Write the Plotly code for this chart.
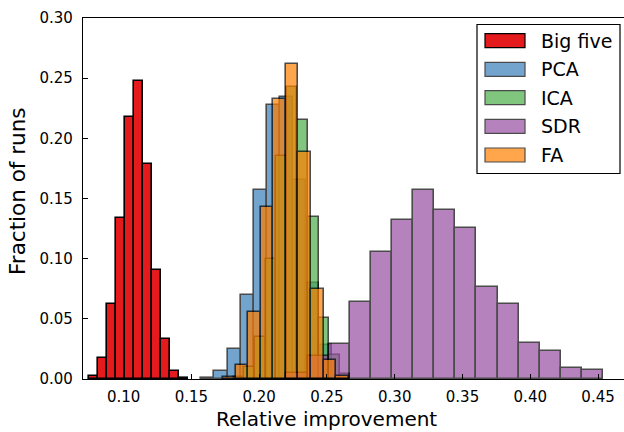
import plotly.graph_objects as go

# ---- data (fractions of runs per histogram bin) ----
series_names = ["Big five", "PCA", "ICA", "SDR", "FA"]

bigfive_start, bigfive_width = 0.07418, 0.006667
bigfive_vals = [0.0028, 0.0177, 0.0624, 0.134, 0.2174, 0.2479, 0.1788, 0.0907, 0.0335, 0.0067, 0.0011]

pca_start, pca_width = 0.15740, 0.009613
pca_vals = [0.001, 0.0069, 0.025, 0.0699, 0.157, 0.228, 0.234, 0.165, 0.08, 0.028]

ica_start, ica_width = 0.18132, 0.00782
ica_vals = [0.002, 0.01, 0.035, 0.10, 0.185, 0.243, 0.215, 0.135, 0.051, 0.02, 0.004]

sdr_start, sdr_width = 0.22011, 0.015573
sdr_vals = [0.005, 0.019, 0.0291, 0.064, 0.1057, 0.1323, 0.1572, 0.1403, 0.1253,
            0.0763, 0.0621, 0.030, 0.023, 0.0089, 0.0075]

fa_start, fa_width = 0.17334, 0.009267
fa_vals = [0.0015, 0.012, 0.0555, 0.143, 0.2327, 0.2618, 0.189, 0.0749, 0.0158, 0.0025]

x_ticks = [0.10, 0.15, 0.20, 0.25, 0.30, 0.35, 0.40, 0.45]
y_ticks = [0.00, 0.05, 0.10, 0.15, 0.20, 0.25, 0.30]

colors = ["#e41a1c", "#377eb8", "#4daf4a", "#984ea3", "#ff7f00"]
alphas = [1.0, 0.7, 0.7, 0.7, 0.7]

datasets = [
    (bigfive_start, bigfive_width, bigfive_vals),
    (pca_start, pca_width, pca_vals),
    (ica_start, ica_width, ica_vals),
    (sdr_start, sdr_width, sdr_vals),
    (fa_start, fa_width, fa_vals),
]

# ---- layout geometry (pixels) ----
W, H = 624, 432
L, R, T, B = 83, 0, 18, 53
PW, PH = W - L - R, H - T - B
XMIN = 0.07
XMAX = XMIN + PW / 1355.4
FONT = "DejaVu Sans, Verdana, sans-serif"

fig = go.Figure()
for name, (start, width, vals), c, a in zip(series_names, datasets, colors, alphas):
    centers = [start + (i + 0.5) * width for i in range(len(vals))]
    fig.add_trace(go.Bar(
        x=centers, y=vals, width=width, name=name,
        marker=dict(color=c, line=dict(color="black", width=1.6)),
        opacity=a, showlegend=False, hoverinfo="skip",
    ))

def px(xp):
    return (xp - L) / PW

def py(yp):
    return (H - B - yp) / PH

shapes = []
annotations = []
# legend box
shapes.append(dict(type="rect", xref="paper", yref="paper",
                   x0=px(477), x1=px(620), y0=py(24.5), y1=py(173.5),
                   line=dict(color="black", width=1.2), fillcolor="white", layer="above"))
row_y = [40.7, 69.3, 97.7, 126.3, 155.0]
for name, c, a, ry in zip(series_names, colors, alphas, row_y):
    shapes.append(dict(type="rect", xref="paper", yref="paper",
                       x0=px(485), x1=px(525), y0=py(ry + 7), y1=py(ry - 7),
                       line=dict(color="black", width=1.2), fillcolor=c,
                       opacity=a, layer="above"))
    annotations.append(dict(text=name, xref="paper", yref="paper",
                            x=px(539), y=py(ry), xanchor="left", yanchor="middle",
                            showarrow=False, font=dict(family=FONT, size=19, color="black")))

# axis titles
annotations.append(dict(text="Relative improvement", xref="paper", yref="paper",
                        x=px(326), y=py(419), xanchor="center", yanchor="middle",
                        showarrow=False, font=dict(family=FONT, size=20, color="black")))
annotations.append(dict(text="Fraction of runs", xref="paper", yref="paper",
                        x=px(17), y=py(191), xanchor="center", yanchor="middle",
                        textangle=-90, showarrow=False,
                        font=dict(family=FONT, size=21.5, color="black")))

axis_common = dict(showgrid=False, zeroline=False, ticks="inside", ticklen=5,
                   tickwidth=1, tickcolor="black", automargin=False,
                   tickfont=dict(family=FONT, size=15, color="black"))

fig.update_layout(
    width=W, height=H,
    margin=dict(l=L, r=R, t=T, b=B, pad=0, autoexpand=False),
    paper_bgcolor="white", plot_bgcolor="white",
    barmode="overlay", bargap=0, hovermode=False,
    shapes=shapes, annotations=annotations,
    xaxis=dict(range=[XMIN, XMAX], tickvals=x_ticks, tickformat=".2f",
               showline=True, linecolor="black", linewidth=1.2, mirror=True,
               ticklabelstandoff=4, **axis_common),
    yaxis=dict(range=[0, 0.30], tickvals=y_ticks, tickformat=".2f",
               showline=True, linecolor="black", linewidth=1.2, mirror=False,
               ticklabelstandoff=6, **axis_common),
    xaxis2=dict(range=[XMIN, XMAX], tickvals=x_ticks, overlaying="x", side="top",
                anchor="y", showticklabels=False, showline=False, **axis_common),
    yaxis2=dict(range=[0, 0.30], tickvals=y_ticks, overlaying="y", side="right",
                anchor="x", showticklabels=False, showline=False, **axis_common),
)

fig.write_html("out.html", config={"displayModeBar": False},
               post_script="document.body.style.margin='0';document.body.style.overflow='hidden';")
